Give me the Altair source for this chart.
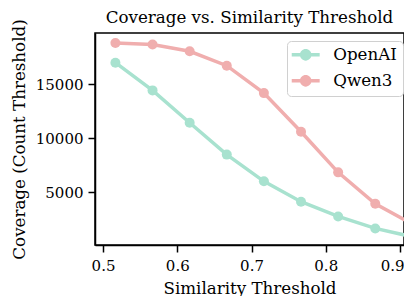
import altair as alt
import pandas as pd

thresholds = [0.5167, 0.5667, 0.6167, 0.6667, 0.7167, 0.7667, 0.8167, 0.8667, 0.9167]
openai = [16980, 14420, 11430, 8490, 6020, 4140, 2780, 1670, 900]
qwen3 = [18800, 18650, 18030, 16700, 14170, 10600, 6850, 3950, 2070]
series = ["OpenAI", "Qwen3"]
colors = ["#a8e2cf", "#f0aeae"]
x_ticks = [0.5, 0.6, 0.7, 0.8, 0.9]
y_ticks = [5000, 10000, 15000]

rows = []
for name, vals in zip(series, [openai, qwen3]):
    for t, v in zip(thresholds, vals):
        rows.append({"Similarity Threshold": t, "Coverage": v, "Model": name})
df = pd.DataFrame(rows)

FONT = "DejaVu Serif"
last_tick = alt.datum.value >= 0.89

x = alt.X("Similarity Threshold:Q",
          scale=alt.Scale(domain=[0.4892, 0.9054], nice=False, zero=False),
          axis=alt.Axis(values=x_ticks, format=".1f",
                        title="Similarity Threshold", labelPadding=6, titlePadding=7,
                        labelAlign=alt.condition(last_tick, alt.value("right"), alt.value("center")),
                        labelOffset=alt.condition(last_tick, alt.value(4), alt.value(0))))
y = alt.Y("Coverage:Q",
          scale=alt.Scale(domain=[140, 19720], nice=False, zero=False),
          axis=alt.Axis(values=y_ticks, format="d",
                        title="Coverage (Count Threshold)", labelPadding=5, titlePadding=7))

# legend symbol: line + dot, in units of sqrt(symbolSize)/2
sym = ("M-1.37,-0.26 H2.83 V0.26 H-1.37 Z "
       "M1.6,0 A0.87,0.87 0 1,1 -0.14,0 A0.87,0.87 0 1,1 1.6,0 Z")

legend = alt.Legend(title=None, orient="none", legendX=192, legendY=8, symbolType=sym,
                    symbolSize=177, symbolStrokeWidth=0,
                    labelFont=FONT, labelFontSize=16.7, labelColor="black",
                    padding=5.5, rowPadding=8,
                    strokeColor="#d0d0d0", fillColor="white",
                    cornerRadius=4, labelOffset=24)
color = alt.Color("Model:N", scale=alt.Scale(domain=series, range=colors), legend=legend)

base = alt.Chart(df).encode(x=x, y=y, color=color)
lines = base.mark_line(strokeWidth=3.5, clip=True)
points = base.mark_point(filled=True, size=100, opacity=1, clip=True)

chart = (lines + points).properties(
    width=309, height=212,
    title=alt.TitleParams("Coverage vs. Similarity Threshold", font=FONT, fontSize=16.7,
                          fontWeight="normal", color="black", offset=6, dy=14,
                          frame="group"),
    autosize=alt.AutoSizeParams(type="none"),
    padding={"left": 87, "top": 25, "right": 0, "bottom": 54},
).configure_view(stroke="black", strokeWidth=1.5).configure_axis(
    grid=False, domainColor="black", domainWidth=1.5, tickColor="black", tickWidth=1.5,
    tickSize=7, labelFont=FONT, labelFontSize=15, labelColor="black",
    titleFont=FONT, titleFontSize=16.7, titleFontWeight="normal", titleColor="black",
)

chart.save("out.html", embed_options={"renderer": "svg", "actions": False})
